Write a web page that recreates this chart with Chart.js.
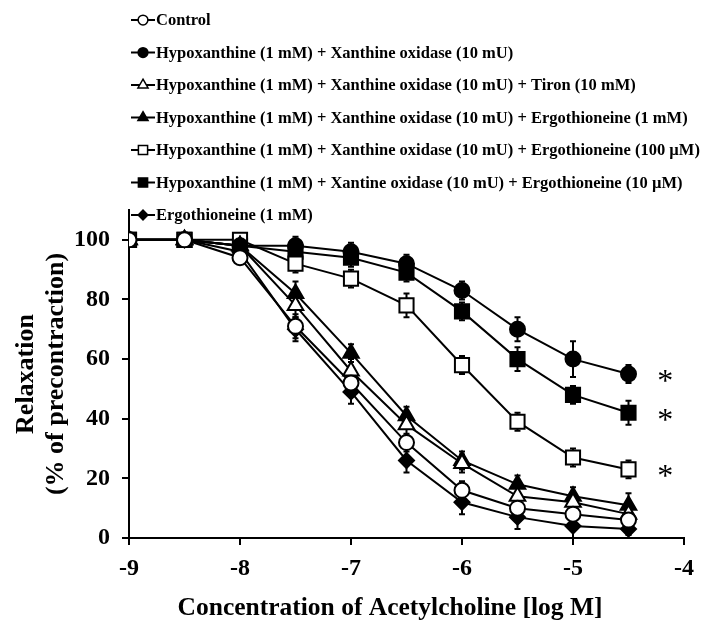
<!DOCTYPE html>
<html>
<head>
<meta charset="utf-8">
<script src="https://cdn.jsdelivr.net/npm/chart.js@4.4.1/dist/chart.umd.min.js"></script>
<style>
html, body { margin: 0; padding: 0; background: #fff; }
</style>
</head>
<body>
<canvas id="myChart" width="720" height="629"></canvas>
<script>
// x positions (log M)
var logConc = [-9, -8.5, -8, -7.5, -7, -6.5, -6, -5.5, -5, -4.5];

var seriesNames = [
    'Control',
    'Hypoxanthine (1 mM) + Xanthine oxidase (10 mU)',
    'Hypoxanthine (1 mM) + Xanthine oxidase (10 mU) + Tiron (10 mM)',
    'Hypoxanthine (1 mM) + Xanthine oxidase (10 mU) + Ergothioneine (1 mM)',
    'Hypoxanthine (1 mM) + Xanthine oxidase (10 mU) + Ergothioneine (100 \u00b5M)',
    'Hypoxanthine (1 mM) + Xantine oxidase (10 mU) + Ergothioneine (10 \u00b5M)',
    'Ergothioneine (1 mM)'
];

// mean relaxation (%)
var control    = [100, 100, 94, 71, 52, 32, 16, 10, 8, 6];
var hxXo       = [100, 100, 98, 98, 96, 92, 83, 70, 60, 55];
var hxXoTiron  = [100, 100, 98, 78, 56, 38, 25, 14, 12, 8];
var hxXoErgo1  = [100, 100, 98, 82, 62, 41, 26, 18, 14, 11];
var hxXoErgo100 = [100, 100, 100, 92, 87, 78, 58, 39, 27, 23];
var hxXoErgo10 = [100, 100, 98, 96, 94, 89, 76, 60, 48, 42];
var ergoAlone  = [100, 100, 96, 70, 49, 26, 12, 7, 4, 3];

// SEM
var controlErr    = [0, 0, 2, 4, 4, 3, 3, 3, 3, 2];
var hxXoErr       = [0, 0, 2, 3, 3, 3, 3, 4, 6, 3];
var hxXoTironErr  = [0, 0, 2, 4, 4, 4, 3, 3, 3, 3];
var hxXoErgo1Err  = [0, 0, 2, 4, 3, 3, 3, 3, 3, 4];
var hxXoErgo100Err = [0, 0, 2, 3, 3, 4, 3, 3, 3, 3];
var hxXoErgo10Err = [0, 0, 2, 3, 3, 3, 3, 4, 3, 4];
var ergoAloneErr  = [0, 0, 2, 4, 4, 4, 4, 4, 4, 2];

var yTicks = [0, 20, 40, 60, 80, 100];
var xTicks = [-9, -8, -7, -6, -5, -4];
var significant = [1, 5, 4]; // series marked with *
var xTitle = 'Concentration of Acetylcholine [log M]';

var allMeans = [control, hxXo, hxXoTiron, hxXoErgo1, hxXoErgo100, hxXoErgo10, ergoAlone];
var allErrs = [controlErr, hxXoErr, hxXoTironErr, hxXoErgo1Err, hxXoErgo100Err, hxXoErgo10Err, ergoAloneErr];
var styles = [
    { shape: 'circle', fill: '#fff', r: 7.5 },
    { shape: 'circle', fill: '#000', r: 7.5 },
    { shape: 'triangle', fill: '#fff', r: 9 },
    { shape: 'triangle', fill: '#000', r: 9 },
    { shape: 'rect', fill: '#fff', r: 10 },
    { shape: 'rect', fill: '#000', r: 10 },
    { shape: 'rectRot', fill: '#000', r: 7.5 }
];

var serif = '"Liberation Serif", "Times New Roman", serif';

var datasets = allMeans.map(function (vals, i) {
    return {
        label: seriesNames[i],
        data: vals.map(function (v, j) { return { x: logConc[j], y: v }; }),
        errors: allErrs[i],
        borderColor: '#000',
        borderWidth: 2,
        pointStyle: styles[i].shape,
        pointRadius: styles[i].r,
        pointBackgroundColor: styles[i].fill,
        pointBorderColor: '#000',
        pointBorderWidth: 2,
        tension: 0
    };
});

var errorBars = {
    id: 'errorBars',
    beforeDatasetsDraw: function (chart) {
        var ctx = chart.ctx, xs = chart.scales.x, ys = chart.scales.y;
        ctx.save();
        ctx.strokeStyle = '#000';
        ctx.lineWidth = 2;
        chart.data.datasets.forEach(function (ds) {
            ds.data.forEach(function (p, j) {
                var e = ds.errors[j];
                if (!e) return;
                var px = xs.getPixelForValue(p.x);
                var top = ys.getPixelForValue(p.y + e);
                var bot = ys.getPixelForValue(p.y - e);
                ctx.beginPath();
                ctx.moveTo(px, top); ctx.lineTo(px, bot);
                ctx.moveTo(px - 3, top); ctx.lineTo(px + 3, top);
                ctx.moveTo(px - 3, bot); ctx.lineTo(px + 3, bot);
                ctx.stroke();
            });
        });
        ctx.restore();
    }
};

var extras = {
    id: 'extras',
    afterDraw: function (chart) {
        var ctx = chart.ctx, xs = chart.scales.x, ys = chart.scales.y;
        ctx.save();
        // asterisks
        ctx.fillStyle = '#000';
        ctx.font = '32px ' + serif;
        ctx.textAlign = 'center';
        ctx.textBaseline = 'alphabetic';
        significant.forEach(function (i) {
            var vals = allMeans[i];
            var py = ys.getPixelForValue(vals[vals.length - 1]) + 2;
            var m = ctx.measureText('*');
            var off = (m.actualBoundingBoxAscent - m.actualBoundingBoxDescent) / 2;
            ctx.fillText('*', xs.getPixelForValue(-4.17), py + off);
        });
        // x axis title (sits a little left of the axis centre in the original)
        ctx.font = 'bold 25.5px ' + serif;
        ctx.textBaseline = 'middle';
        ctx.fillText(xTitle, 390, 608);
        // legend
        ctx.font = 'bold 16.5px ' + serif;
        ctx.textAlign = 'left';
        seriesNames.forEach(function (name, i) {
            var y = 20 + i * 32.5;
            ctx.strokeStyle = '#000';
            ctx.lineWidth = 2;
            ctx.beginPath();
            ctx.moveTo(131, y); ctx.lineTo(155, y);
            ctx.stroke();
            ctx.fillStyle = styles[i].fill;
            ctx.strokeStyle = '#000';
            ctx.lineWidth = 1.5;
            Chart.helpers.drawPoint(ctx, {
                pointStyle: styles[i].shape,
                radius: styles[i].r * 0.65,
                rotation: 0,
                borderWidth: 1.5
            }, 143, y);
            ctx.fillStyle = '#000';
            ctx.fillText(name, 156, y + 1);
        });
        ctx.restore();
    }
};

var ctx = document.getElementById('myChart').getContext('2d');
var myChart = new Chart(ctx, {
    type: 'line',
    data: { datasets: datasets },
    options: {
        responsive: false,
        animation: false,
        layout: { padding: { top: 210, right: 36, bottom: 0, left: 0 } },
        plugins: {
            legend: { display: false },
            tooltip: { enabled: false }
        },
        scales: {
            x: {
                type: 'linear',
                min: -9,
                max: -4,
                afterBuildTicks: function (scale) {
                    scale.ticks = xTicks.map(function (v) { return { value: v }; });
                },
                afterFit: function (scale) { scale.height = 91; },
                border: { color: '#000', width: 2 },
                grid: { drawOnChartArea: false, color: '#000', lineWidth: 2, tickLength: 7 },
                ticks: {
                    color: '#000',
                    padding: 9,
                    font: { family: serif, size: 24, weight: 'bold' }
                },
                title: { display: false }
            },
            y: {
                min: 0,
                max: 110,
                afterBuildTicks: function (scale) {
                    scale.ticks = yTicks.map(function (v) { return { value: v }; });
                },
                afterFit: function (scale) { scale.width = 129; },
                border: { color: '#000', width: 2 },
                grid: { drawOnChartArea: false, color: '#000', lineWidth: 2, tickLength: 7 },
                ticks: {
                    color: '#000',
                    padding: 12,
                    font: { family: serif, size: 24, weight: 'bold' }
                },
                title: {
                    display: true,
                    text: ['Relaxation', '(% of precontraction)'],
                    color: '#000',
                    padding: { top: 11, bottom: 0 },
                    font: { family: serif, size: 26, weight: 'bold', lineHeight: 1.15 }
                }
            }
        }
    },
    plugins: [errorBars, extras]
});
</script>
</body>
</html>
